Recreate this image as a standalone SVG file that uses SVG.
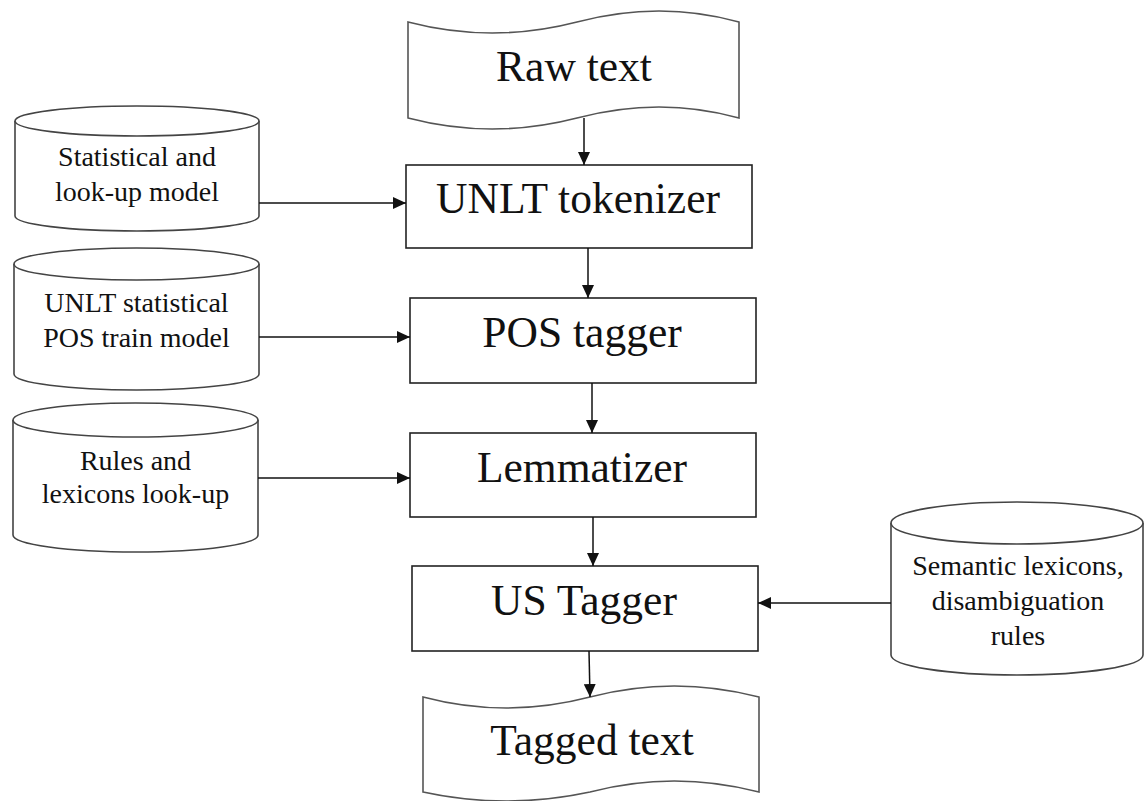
<svg xmlns="http://www.w3.org/2000/svg" width="1145" height="801" viewBox="0 0 1145 801">
<style>
.box{fill:#fff;stroke:#222;stroke-width:1.6}
.cyl{fill:#fff;stroke:#444;stroke-width:1.6}
.doc{fill:#fff;stroke:#555;stroke-width:1.6}
.big{font-size:43.5px;fill:#111;text-anchor:middle}
.small{font-size:28px;fill:#111;text-anchor:middle}
.conn{stroke:#111;stroke-width:1.5;fill:none;marker-end:url(#ah)}
</style>
<defs>
<marker id="ah" markerUnits="userSpaceOnUse" markerWidth="14" markerHeight="12" refX="13" refY="6" orient="auto">
<path d="M0,0 L13,6 L0,12 Z" fill="#111"/>
</marker>
</defs>
<rect width="1145" height="801" fill="#fff"/>
<g font-family="'Liberation Serif', 'DejaVu Serif', serif">
<g id="raw-text">
<path class="doc" d="M408,22 Q492,44 577,22 Q660,0 739,22 L739,118 Q660,96 577,118 Q492,140 408,118 Z"/>
<text class="big" x="574" y="81">Raw text</text>
</g>
<g id="unlt-tokenizer">
<rect class="box" x="406" y="165" width="346" height="83"/>
<text class="big" x="578" y="213">UNLT tokenizer</text>
</g>
<g id="pos-tagger">
<rect class="box" x="410" y="298" width="346" height="85"/>
<text class="big" x="582" y="347">POS tagger</text>
</g>
<g id="lemmatizer">
<rect class="box" x="410" y="433" width="346" height="84"/>
<text class="big" x="582" y="482">Lemmatizer</text>
</g>
<g id="us-tagger">
<rect class="box" x="412" y="566" width="346" height="85"/>
<text class="big" x="584" y="615">US Tagger</text>
</g>
<g id="tagged-text">
<path class="doc" d="M423,697 Q506,719 590,697 Q674,675 759,697 L759,792 Q674,770 590,792 Q506,810 423,792 Z"/>
<text class="big" x="592" y="755">Tagged text</text>
</g>
<g id="statistical-model">
<path class="cyl" d="M15,121 L15,216 A122,15 0 0 0 259,216 L259,121"/>
<ellipse class="cyl" cx="137" cy="121" rx="122" ry="15"/>
<text class="small" x="137" y="166">Statistical and</text>
<text class="small" x="137" y="201">look-up model</text>
</g>
<g id="pos-train-model">
<path class="cyl" d="M14,264 L14,374 A122.5,16 0 0 0 259,374 L259,264"/>
<ellipse class="cyl" cx="136.5" cy="264" rx="122.5" ry="16"/>
<text class="small" x="136.5" y="312">UNLT statistical</text>
<text class="small" x="136.5" y="347">POS train model</text>
</g>
<g id="rules-lexicons">
<path class="cyl" d="M13,420 L13,535 A122.5,17 0 0 0 258,535 L258,420"/>
<ellipse class="cyl" cx="135.5" cy="420" rx="122.5" ry="17"/>
<text class="small" x="135.5" y="470">Rules and</text>
<text class="small" x="135.5" y="503">lexicons look-up</text>
</g>
<g id="semantic-lexicons">
<path class="cyl" d="M891,523 L891,655 A126,20 0 0 0 1143,655 L1143,523"/>
<ellipse class="cyl" cx="1017" cy="523" rx="126" ry="21"/>
<text class="small" x="1018" y="575">Semantic lexicons,</text>
<text class="small" x="1018" y="610">disambiguation</text>
<text class="small" x="1018" y="645">rules</text>
</g>
</g>
<g id="connectors">
<line class="conn" x1="584" y1="118" x2="584" y2="165"/>
<line class="conn" x1="588" y1="248" x2="588" y2="298"/>
<line class="conn" x1="592" y1="383" x2="592" y2="433"/>
<line class="conn" x1="593" y1="517" x2="593" y2="566"/>
<line class="conn" x1="589" y1="651" x2="590" y2="697"/>
<line class="conn" x1="259" y1="203" x2="406" y2="203"/>
<line class="conn" x1="259" y1="337" x2="410" y2="337"/>
<line class="conn" x1="258" y1="478" x2="410" y2="478"/>
<line class="conn" x1="891" y1="603" x2="758" y2="603"/>
</g>
</svg>
